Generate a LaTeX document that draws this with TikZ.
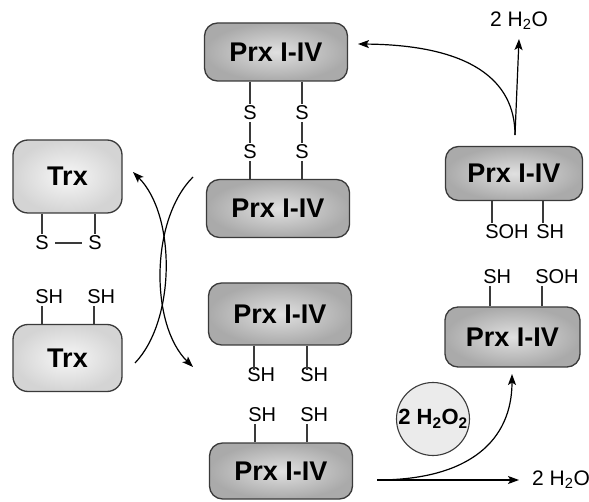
\documentclass[tikz,border=0pt]{standalone}
\usepackage{fontspec}
\setmainfont{Liberation Sans}
\usetikzlibrary{arrows.meta}
\definecolor{edge}{HTML}{3A3A3A}
\definecolor{prxin}{HTML}{E0E0E0}
\definecolor{prxout}{HTML}{AAAAAA}
\definecolor{trxin}{HTML}{F7F7F7}
\definecolor{trxout}{HTML}{D4D4D4}
\definecolor{circfill}{HTML}{EBEBEB}
\tikzset{
  prx/.style={draw=edge, line width=1.3pt, rounded corners=13pt, inner color=prxin, outer color=prxout,
    minimum width=143pt, minimum height=58pt, font=\fontsize{27}{27}\selectfont\bfseries},
  trx/.style={draw=edge, line width=1.3pt, rounded corners=15pt, inner color=trxin, outer color=trxout,
    minimum width=109pt, font=\fontsize{27}{27}\selectfont\bfseries},
  lbl/.style={font=\fontsize{20}{20}\selectfont, inner sep=1.5pt},
  wtr/.style={font=\fontsize{21}{21}\selectfont, inner sep=1pt},
  link/.style={draw=edge, line width=1.1pt},
  arr/.style={line width=1.2pt, -{Stealth[length=11pt,width=8pt,inset=2.5pt]}},
}
\begin{document}
\begin{tikzpicture}[x=1pt,y=-1pt]
\useasboundingbox (0,0) rectangle (589,502);

% Prx boxes
\node[prx] (P1) at (276,52) {Prx I-IV};
\node[prx] (P2) at (278,208.5) {Prx I-IV};
\node[prx, minimum height=62pt] (P3) at (280,314) {Prx I-IV};
\node[prx, minimum height=56pt] (P4) at (281,471) {Prx I-IV};
\node[prx, minimum width=135pt, minimum height=60pt] (P5) at (512.5,337) {Prx I-IV};
\node[prx, minimum width=137pt, minimum height=54pt] (P6) at (514,173.5) {Prx I-IV};

% Trx boxes
\node[trx, minimum height=73pt] (T1) at (67.5,176.5) {Trx};
\node[trx, minimum height=67pt] (T2) at (67.5,358) {Trx};

% disulfide bridges P1-P2
\node[lbl, fill=white] (s1a) at (250,113) {S};
\node[lbl, fill=white] (s1b) at (250,152) {S};
\node[lbl, fill=white] (s2a) at (302,113) {S};
\node[lbl, fill=white] (s2b) at (302,152) {S};
\draw[link] (P1.south -| s1a) -- (s1a) -- (s1b) -- (P2.north -| s1b);
\draw[link] (P1.south -| s2a) -- (s2a) -- (s2b) -- (P2.north -| s2b);
\node[lbl, fill=white] at (250,113) {S};
\node[lbl, fill=white] at (250,152) {S};
\node[lbl, fill=white] at (302,113) {S};
\node[lbl, fill=white] at (302,152) {S};

% Trx oxidized
\node[lbl] (ts1) at (42,243) {S};
\node[lbl] (ts2) at (95,243) {S};
\draw[link] (T1.south -| ts1) -- (ts1.north);
\draw[link] (T1.south -| ts2) -- (ts2.north);
\draw[link, shorten <=5pt, shorten >=5pt] (ts1) -- (ts2);

% Trx reduced
\node[lbl] (th1) at (42,297) {S\rlap{H}};
\node[lbl] (th2) at (94,297) {S\rlap{H}};
\draw[link] (T2.north -| th1) -- (th1.south);
\draw[link] (T2.north -| th2) -- (th2.south);

% P3 reduced
\node[lbl] (p3a) at (254,375) {S\rlap{H}};
\node[lbl] (p3b) at (307,375) {S\rlap{H}};
\draw[link] (P3.south -| p3a) -- ([yshift=-4pt]p3a.north);
\draw[link] (P3.south -| p3b) -- ([yshift=-4pt]p3b.north);

% P4 reduced
\node[lbl] (p4a) at (255,415) {S\rlap{H}};
\node[lbl] (p4b) at (307,415) {S\rlap{H}};
\draw[link] (P4.north -| p4a) -- (p4a.south);
\draw[link] (P4.north -| p4b) -- (p4b.south);

% P5
\node[lbl] (p5a) at (490,277) {S\rlap{H}};
\node[lbl] (p5b) at (542,277) {S\rlap{OH}};
\draw[link] (P5.north -| p5a) -- (p5a.south);
\draw[link] (P5.north -| p5b) -- (p5b.south);

% P6
\node[lbl] (p6a) at (492,232) {S\rlap{OH}};
\node[lbl] (p6b) at (543,232) {S\rlap{H}};
\draw[link] (P6.south -| p6a) -- (p6a.north);
\draw[link] (P6.south -| p6b) -- (p6b.north);

% crossing arrows between Trx and Prx
\coordinate (a1s) at (135,363);
\coordinate (a1e) at (133,172);
\coordinate (a2s) at (193,177);
\coordinate (a2e) at (193,367);
\draw[arr] (a1s) .. controls (176,320) and (176,215) .. (a1e);
\draw[arr] (a2s) .. controls (150,220) and (150,325) .. (a2e);

% top right water release
\coordinate (w1s) at (515,135);
\node[wtr] (w1) at (519,21) {2 H\textsubscript{2}O};
\draw[arr] (w1s) -- (w1.south |- 0,39);
\coordinate (p1r) at (358,44);
\draw[arr] (w1s) .. controls (515,80) and (470,45) .. (p1r);

% bottom: peroxide reduction
\coordinate (bs) at (377,480);
\node[wtr, anchor=west] (w2) at (531,480) {2 H\textsubscript{2}O};
\draw[arr, shorten >=12pt] (bs) -- (w2.west);
\coordinate (be) at (512,374);
\draw[arr] (bs) .. controls (470,480) and (512,440) .. (be);

\node[circle, draw=edge, line width=1.1pt, fill=circfill, minimum size=73pt, inner sep=0pt,
  font=\fontsize{22}{22}\selectfont\bfseries] (h2o2) at (433,419) {2 H\textsubscript{2}O\textsubscript{2}};
\end{tikzpicture}
\end{document}
